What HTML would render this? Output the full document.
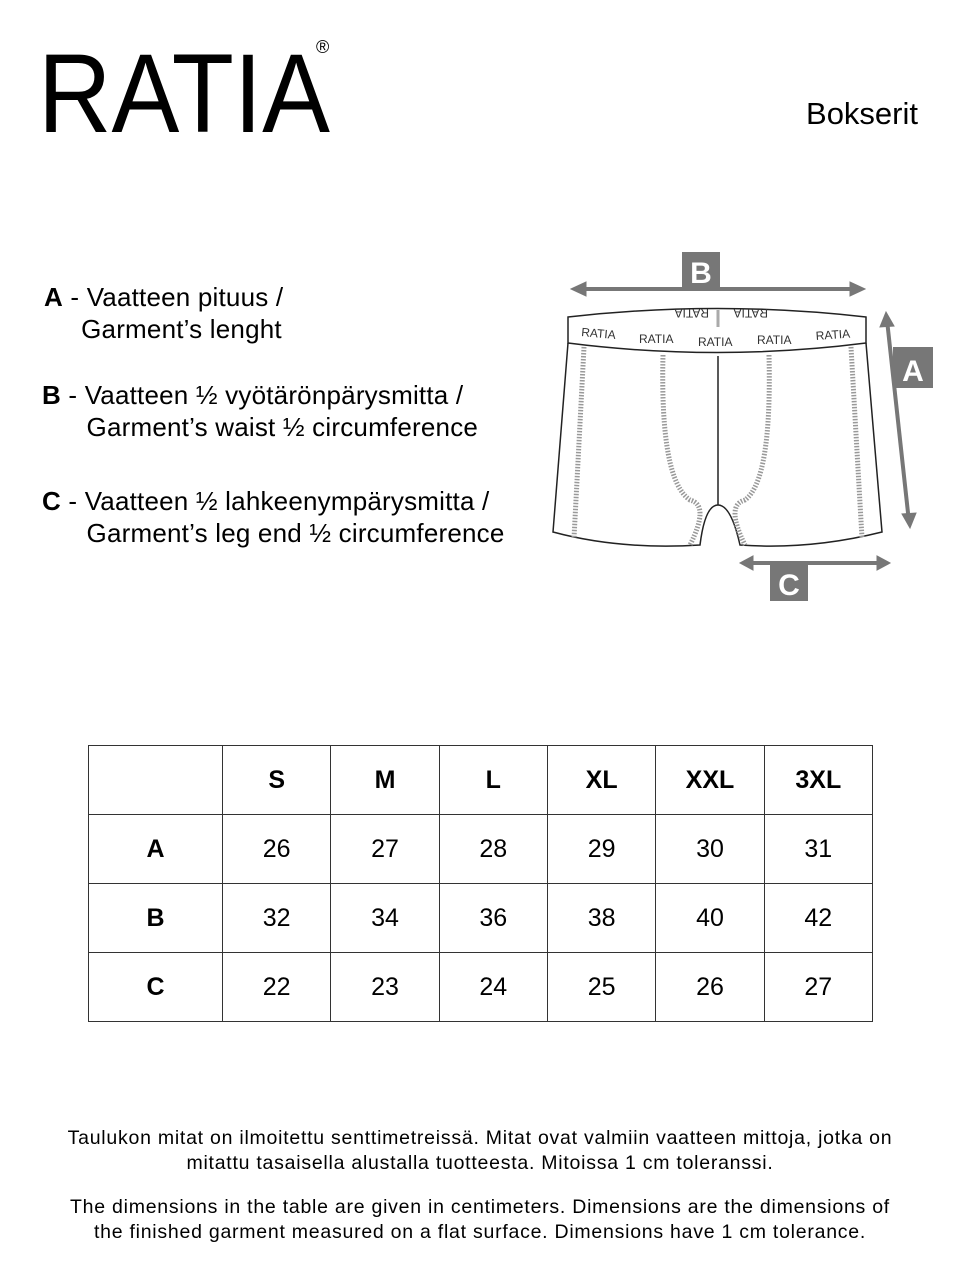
<!DOCTYPE html>
<html><head><meta charset="utf-8"><style>
html,body{margin:0;padding:0;background:#fff;}
body{width:960px;height:1280px;position:relative;font-family:"Liberation Sans",Arial,sans-serif;color:#000;overflow:hidden;}
.t{position:absolute;white-space:nowrap;}
table{position:absolute;left:88px;top:745px;border-collapse:collapse;table-layout:fixed;width:785px;}
td{border:1px solid #333;height:68px;text-align:center;font-size:25px;padding:0;}
tr:first-child td, td:first-child{font-weight:bold;}
.foot{position:absolute;left:0;width:960px;text-align:center;font-size:19.5px;letter-spacing:0.75px;line-height:25px;}
.lg{font-size:26px;line-height:32px;letter-spacing:0.2px;}
</style></head><body>
<svg width="960" height="1280" style="position:absolute;left:0;top:0">
<text x="38" y="132" font-family="Liberation Sans" font-size="112" textLength="292" lengthAdjust="spacingAndGlyphs">RATIA</text>
<text x="316" y="53" font-family="Liberation Sans" font-size="18">®</text>
<g fill="#777" stroke="#777">
<line x1="578" y1="289" x2="858" y2="289" stroke-width="4"/>
<polygon points="571,289 586,282 586,296"/><polygon points="865,289 850,282 850,296"/>
<line x1="887" y1="320" x2="909" y2="522" stroke-width="4"/>
<polygon points="886,312 880,327 894,326"/><polygon points="910,528 902,514 916,513"/>
<line x1="746" y1="563" x2="885" y2="563" stroke-width="4"/>
<polygon points="740,563 753,556 753,570"/><polygon points="890,563 877,556 877,570"/>
</g>
<rect x="682" y="252" width="38" height="36" fill="#777"/>
<text x="701" y="283" font-size="30" font-weight="bold" fill="#fff" text-anchor="middle" font-family="Liberation Sans">B</text>
<rect x="893" y="347" width="40" height="41" fill="#777"/>
<text x="913" y="381" font-size="30" font-weight="bold" fill="#fff" text-anchor="middle" font-family="Liberation Sans">A</text>
<rect x="770" y="565" width="38" height="36" fill="#777"/>
<text x="789" y="595" font-size="30" font-weight="bold" fill="#fff" text-anchor="middle" font-family="Liberation Sans">C</text>
<g fill="none" stroke="#222" stroke-width="1.5">
<path d="M568,317 Q717,300 866,317 L866,343 Q717,362 568,343 Z"/>
<path d="M568,343 L553,532 Q620,550 700,545 Q705,505 718,505 Q731,505 740,545 Q810,550 882,532 L866,343"/>
<line x1="718" y1="356" x2="718" y2="505"/>
</g>
<line x1="718" y1="310" x2="718" y2="327" stroke="#aaa" stroke-width="3"/>
<g fill="none" stroke="#999" stroke-width="5" stroke-dasharray="1.5 1.5">
<path d="M584,347 L574,538"/><path d="M851,347 L862,538"/>
<path d="M663,355 Q660,480 690,500 Q710,505 690,545"/>
<path d="M769,355 Q772,480 745,500 Q725,505 745,545"/>
</g>
<g font-family="Liberation Sans" font-size="12" fill="#333">
<text x="581" y="336" transform="rotate(5 581 336)">RATIA</text>
<text x="639" y="343">RATIA</text><text x="698" y="346">RATIA</text>
<text x="757" y="344">RATIA</text><text x="816" y="340" transform="rotate(-4 816 340)">RATIA</text>
<g transform="rotate(180 718 320)">
<text x="668" y="331">RATIA</text><text x="727" y="331">RATIA</text>
</g>
</g>
</svg>
<div class="t" style="right:42px;top:96px;font-size:31px;">Bokserit</div>
<div class="t lg" style="left:44px;top:281px;"><b>A</b> - Vaatteen pituus /<br>&nbsp;&nbsp;&nbsp;&nbsp;&nbsp;Garment’s lenght</div>
<div class="t lg" style="left:42px;top:379px;"><b>B</b> - Vaatteen ½ vyötärönpärysmitta /<br>&nbsp;&nbsp;&nbsp;&nbsp;&nbsp;&nbsp;Garment’s waist ½ circumference</div>
<div class="t lg" style="left:42px;top:485px;"><b>C</b> - Vaatteen ½ lahkeenympärysmitta /<br>&nbsp;&nbsp;&nbsp;&nbsp;&nbsp;&nbsp;Garment’s leg end ½ circumference</div>
<table>
<colgroup><col style="width:134px"><col><col><col><col><col><col></colgroup>
<tr><td></td><td>S</td><td>M</td><td>L</td><td>XL</td><td>XXL</td><td>3XL</td></tr>
<tr><td>A</td><td>26</td><td>27</td><td>28</td><td>29</td><td>30</td><td>31</td></tr>
<tr><td>B</td><td>32</td><td>34</td><td>36</td><td>38</td><td>40</td><td>42</td></tr>
<tr><td>C</td><td>22</td><td>23</td><td>24</td><td>25</td><td>26</td><td>27</td></tr>
</table>
<div class="foot" style="top:1126px;">Taulukon mitat on ilmoitettu senttimetreissä. Mitat ovat valmiin vaatteen mittoja, jotka on<br>mitattu tasaisella alustalla tuotteesta. Mitoissa 1 cm toleranssi.</div>
<div class="foot" style="top:1195px;">The dimensions in the table are given in centimeters. Dimensions are the dimensions of<br>the finished garment measured on a flat surface. Dimensions have 1 cm tolerance.</div>
</body></html>
